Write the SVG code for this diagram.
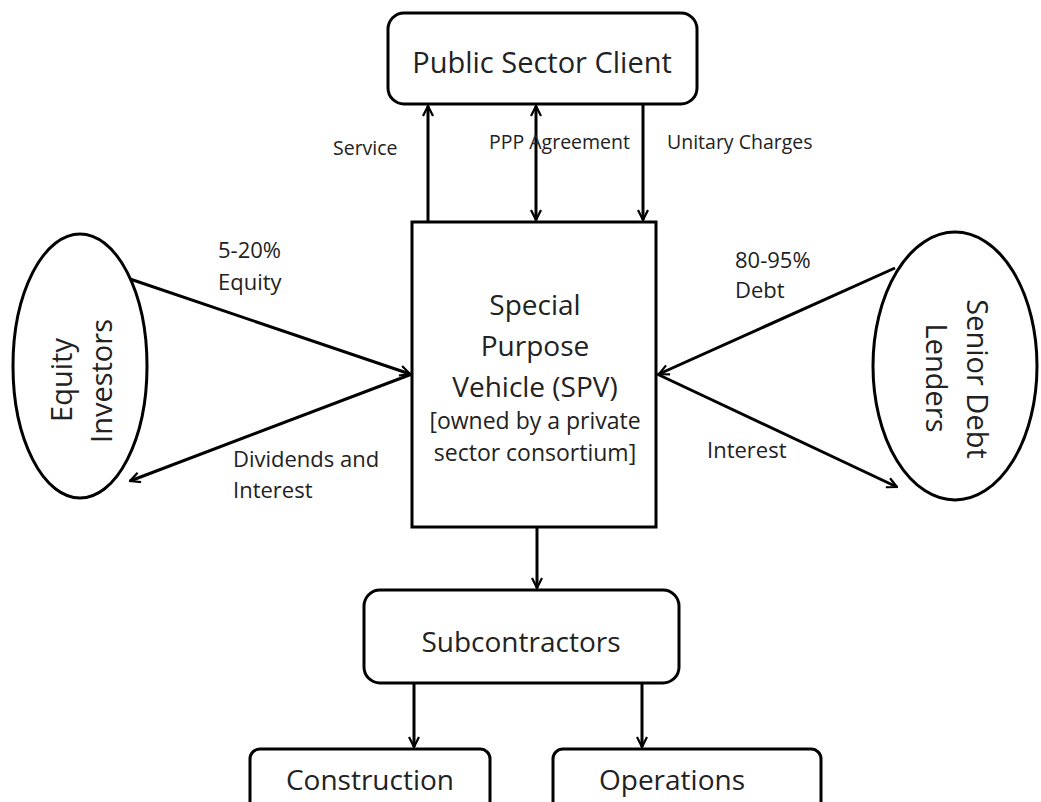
<svg xmlns="http://www.w3.org/2000/svg" width="1041" height="802" viewBox="0 0 1041 802">
<style>
.box{fill:#fff;stroke:#000;stroke-width:3}
.ln{fill:none;stroke:#000;stroke-width:3}
.big{font-family:"Open Sans","DejaVu Sans",sans-serif;font-size:28px;fill:#222;text-anchor:middle}
.mid{font-family:"Open Sans","DejaVu Sans",sans-serif;font-size:23px;fill:#222;text-anchor:middle}
.lab{font-family:"Open Sans","DejaVu Sans",sans-serif;font-size:22px;fill:#222}
.sm{font-family:"Open Sans","DejaVu Sans",sans-serif;font-size:19.5px;fill:#222}
</style>
<defs>
<marker id="ah" viewBox="0 0 12 12" refX="11" refY="6" markerWidth="12" markerHeight="12" markerUnits="userSpaceOnUse" orient="auto-start-reverse">
<path d="M1,1 L11,6 L1,11" fill="none" stroke="#000" stroke-width="2.2"/>
</marker>
</defs>
<rect width="1041" height="802" fill="#fff"/>
<g id="connectors">
<line class="ln" x1="428" y1="222" x2="428" y2="106" marker-end="url(#ah)"/>
<line class="ln" x1="536" y1="106" x2="536" y2="220" marker-start="url(#ah)" marker-end="url(#ah)"/>
<line class="ln" x1="643" y1="104" x2="643" y2="220" marker-end="url(#ah)"/>
<line class="ln" x1="130" y1="279" x2="410" y2="374" marker-end="url(#ah)"/>
<line class="ln" x1="412" y1="374" x2="130" y2="481" marker-end="url(#ah)"/>
<line class="ln" x1="895" y1="268" x2="659" y2="374" marker-end="url(#ah)"/>
<line class="ln" x1="657" y1="374" x2="897" y2="487" marker-end="url(#ah)"/>
<line class="ln" x1="537" y1="527" x2="537" y2="588" marker-end="url(#ah)"/>
<line class="ln" x1="414" y1="684" x2="414" y2="747" marker-end="url(#ah)"/>
<line class="ln" x1="642" y1="684" x2="642" y2="747" marker-end="url(#ah)"/>
<text class="sm" x="333" y="155">Service</text>
<text class="sm" x="489" y="149">PPP Agreement</text>
<text class="sm" x="667" y="149">Unitary Charges</text>
<text class="lab" x="218" y="258">5-20%</text>
<text class="lab" x="218" y="290">Equity</text>
<text class="lab" x="233" y="467">Dividends and</text>
<text class="lab" x="233" y="498">Interest</text>
<text class="lab" x="735" y="268">80-95%</text>
<text class="lab" x="735" y="298">Debt</text>
<text class="lab" x="707" y="458">Interest</text>
</g>
<g id="public-sector-client">
<rect class="box" x="388" y="13" width="309" height="91" rx="16"/>
<text class="big" x="542" y="73" style="font-size:29px">Public Sector Client</text>
</g>
<g id="spv">
<rect class="box" x="412" y="222" width="244" height="305"/>
<text class="big" x="535" y="315">Special</text>
<text class="big" x="535" y="356">Purpose</text>
<text class="big" x="535" y="397">Vehicle (SPV)</text>
<text class="mid" x="535" y="429">[owned by a private</text>
<text class="mid" x="535" y="461">sector consortium]</text>
</g>
<g id="equity-investors">
<ellipse class="box" cx="80" cy="366" rx="67" ry="132"/>
<text class="big" transform="translate(72,380) rotate(-90)" x="0" y="0" style="font-size:29px">Equity</text>
<text class="big" transform="translate(112,381) rotate(-90)" x="0" y="0" style="font-size:29px">Investors</text>
</g>
<g id="senior-debt-lenders">
<ellipse class="box" cx="955" cy="366" rx="82" ry="134"/>
<text class="big" transform="translate(967,379) rotate(90)" x="0" y="0" style="font-size:29px">Senior Debt</text>
<text class="big" transform="translate(926,378) rotate(90)" x="0" y="0" style="font-size:29px">Lenders</text>
</g>
<g id="subcontractors">
<rect class="box" x="364" y="590" width="315" height="93" rx="16"/>
<text class="big" x="521" y="652">Subcontractors</text>
</g>
<g id="construction">
<rect class="box" x="250" y="749" width="240" height="70" rx="10"/>
<text class="big" x="370" y="790">Construction</text>
</g>
<g id="operations">
<rect class="box" x="553" y="749" width="268" height="70" rx="10"/>
<text class="big" x="672" y="790">Operations</text>
</g>
</svg>
